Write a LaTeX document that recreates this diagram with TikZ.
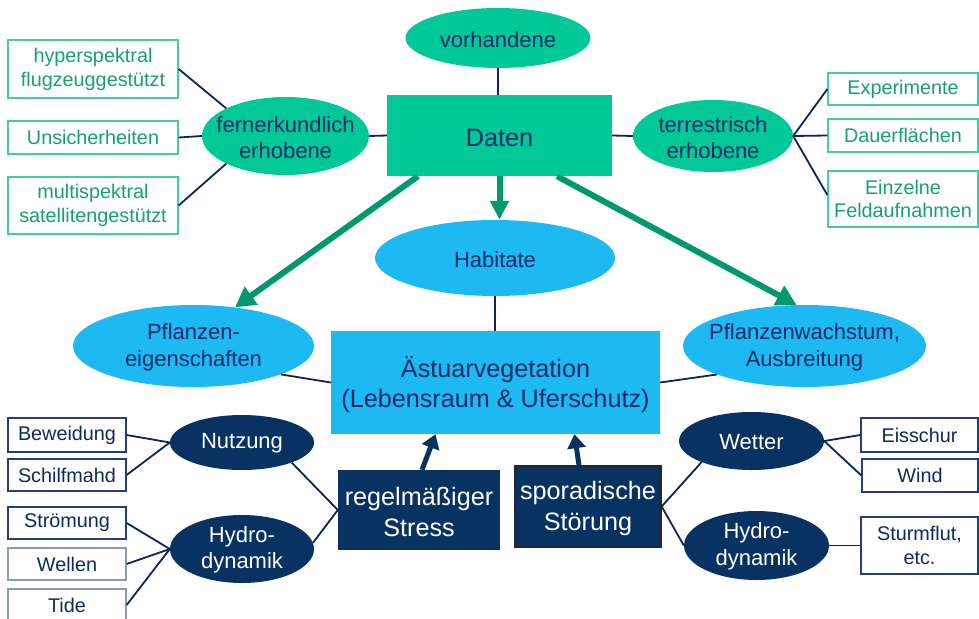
\documentclass[tikz,border=0pt]{standalone}
\usepackage{fontspec}
\setmainfont{Liberation Sans}
\usetikzlibrary{shapes.geometric,arrows.meta,calc}
\definecolor{dgreen}{HTML}{00C896}
\definecolor{agreen}{HTML}{00996E}
\definecolor{tnavy}{HTML}{102A6B}
\definecolor{lnavy}{HTML}{0A2361}
\definecolor{lblue}{HTML}{1CB9F3}
\definecolor{dnavy}{HTML}{073261}
\definecolor{gtext}{HTML}{14A077}
\definecolor{gborder}{HTML}{40CDA5}
\definecolor{btext}{HTML}{0B2A5E}
\definecolor{bborder}{HTML}{223F7C}
\definecolor{bborderl}{HTML}{8A9AB8}
\begin{document}
\begin{tikzpicture}[x=1pt,y=-1pt,
  fA/.style={font=\fontsize{19.8}{23.8}\selectfont},
  fB/.style={font=\fontsize{22}{26.5}\selectfont},
  fC/.style={font=\fontsize{25.2}{30.5}\selectfont},
  ell/.style={ellipse, inner sep=0pt, draw=none},
  gell/.style={ell, fill=dgreen},
  bell/.style={ell, fill=lblue},
  nell/.style={ell, fill=dnavy},
  ltn/.style={align=center, text=tnavy, fB, inner sep=0pt, yshift=-1.5pt},
  lwh/.style={align=center, text=white, fB, inner sep=0pt, yshift=-1pt},
  lbig/.style={align=center, fC, inner sep=0pt, yshift=-2pt},
  gbox/.style={rectangle, draw=gborder, line width=1.3pt, text=gtext, align=center, inner sep=0pt, fA},
  bbox/.style={rectangle, draw=bborder, line width=1.3pt, text=btext, align=center, inner sep=0pt, fA},
  conn/.style={draw=lnavy, line width=1.8pt},
  garrow/.style={draw=agreen, line width=6pt, -{Triangle[length=20pt,width=21pt]}},
  narrow/.style={draw=dnavy, line width=5pt, -{Triangle[length=14pt,width=18pt]}}
]
\useasboundingbox (0,0) rectangle (979,618);

% top
\node[gell, minimum width=185pt, minimum height=60pt, label={[ltn]center:{vorhandene}}] (vorh) at (498,38) {};
\node[rectangle, fill=dgreen, minimum width=225pt, minimum height=81pt, inner sep=0pt, label={[lbig, text=tnavy]center:{Daten}}] (daten) at (499.5,135.5) {};
\node[gell, minimum width=167pt, minimum height=78pt, label={[ltn]center:{fernerkundlich\\erhobene}}] (fern) at (285.5,136) {};
\node[gell, minimum width=160pt, minimum height=72pt, label={[ltn]center:{terrestrisch\\erhobene}}] (terr) at (713,136) {};

\node[gbox, minimum width=170pt, minimum height=58pt] (hyp) at (93,69) {hyperspektral\\flugzeuggestützt};
\node[gbox, minimum width=170pt, minimum height=33pt] (unsi) at (93,137.5) {Unsicherheiten};
\node[gbox, minimum width=170pt, minimum height=57pt] (multi) at (93,205.5) {multispektral\\satellitengestützt};

\node[gbox, minimum width=150pt, minimum height=32pt] (exp) at (903,89) {Experimente};
\node[gbox, minimum width=150pt, minimum height=33pt] (dauer) at (903,135.5) {Dauerflächen};
\node[gbox, minimum width=150pt, minimum height=56pt] (einz) at (903,199) {Einzelne\\Feldaufnahmen};

% middle
\node[bell, minimum width=240pt, minimum height=76pt, label={[ltn]center:{Habitate}}] (hab) at (495,258) {};
\node[bell, minimum width=241pt, minimum height=82pt, label={[ltn]center:{Pflanzen-\\eigenschaften}}] (pfl) at (193.5,346) {};
\node[bell, minimum width=243pt, minimum height=82pt, label={[ltn]center:{Pflanzenwachstum,\\Ausbreitung}}] (wach) at (804.5,346) {};
\node[rectangle, fill=lblue, minimum width=329pt, minimum height=103pt, inner sep=0pt, label={[lbig, text=tnavy]center:{Ästuarvegetation\\(Lebensraum \& Uferschutz)}}] (ast) at (495.5,382.5) {};

% bottom
\node[rectangle, fill=dnavy, minimum width=162pt, minimum height=80pt, inner sep=0pt, label={[lbig, text=white]center:{regelmäßiger\\Stress}}] (reg) at (419,510) {};
\node[rectangle, fill=dnavy, draw=black!85, line width=1.3pt, minimum width=146pt, minimum height=81pt, inner sep=0pt, label={[lbig, text=white]center:{sporadische\\Störung}}] (spor) at (588,506.5) {};

\node[nell, minimum width=144pt, minimum height=55pt, label={[lwh]center:{Nutzung}}] (nutz) at (242,442.5) {};
\node[nell, minimum width=144pt, minimum height=68pt, label={[lwh]center:{Hydro-\\dynamik}}] (hydL) at (242,549) {};
\node[nell, minimum width=145pt, minimum height=58pt, label={[lwh]center:{Wetter}}] (wet) at (751.5,441) {};
\node[nell, minimum width=145pt, minimum height=69pt, label={[lwh]center:{Hydro-\\dynamik}}] (hydR) at (756.5,545.5) {};

\node[bbox, minimum width=118pt, minimum height=34pt] (bew) at (67,435) {Beweidung};
\node[bbox, minimum width=118pt, minimum height=32pt] (schilf) at (67,475) {Schilfmahd};
\node[bbox, minimum width=118pt, minimum height=32pt] (stroem) at (67,523) {Strömung};
\node[bbox, draw=bborderl, minimum width=118pt, minimum height=32pt] (well) at (67,564) {Wellen};
\node[bbox, draw=bborderl, minimum width=118pt, minimum height=32pt] (tide) at (67,605) {Tide};

\node[bbox, minimum width=117pt, minimum height=34pt] (eis) at (919.5,435) {Eisschur};
\node[bbox, minimum width=116pt, minimum height=33pt] (wind) at (920,475.5) {Wind};
\node[bbox, minimum width=117pt, minimum height=57pt] (sturm) at (919.5,545.5) {Sturmflut,\\etc.};

% connectors
\draw[conn] (vorh.south) -- (daten.north -| vorh.south);
\draw[conn] (fern.east) -- (daten.west);
\draw[conn] (daten.east) -- (terr.west);
\draw[conn] (hyp.east) -- (fern.155);
\draw[conn] (unsi.east) -- (fern.west);
\draw[conn] (multi.east) -- (fern.205);
\draw[conn] (terr.east) -- (exp.west);
\draw[conn] (terr.east) -- (dauer.west);
\draw[conn] (terr.east) -- ($(einz.west)+(0,-4)$);
\draw[conn] (hab.south) -- (ast.north -| hab.south);
\draw[conn] (pfl.-18) -- (ast.west);
\draw[conn] (ast.east) -- (wach.198);
\draw[conn] (bew.east) -- (nutz.west);
\draw[conn] (schilf.east) -- (nutz.west);
\draw[conn] (stroem.east) -- (hydL.west);
\draw[conn] (well.east) -- (hydL.west);
\draw[conn] (tide.east) -- (hydL.west);
\draw[conn] (nutz.-22) -- (reg.west);
\draw[conn] (hydL.5) -- (reg.west);
\draw[conn] (spor.east) -- (wet.203);
\draw[conn] (spor.east) -- (hydR.west);
\draw[conn] (wet.east) -- (eis.west);
\draw[conn] (wet.east) -- (wind.west);
\draw[conn] (hydR.east) -- (sturm.west);

% arrows
\draw[garrow] ($(daten.south)+(-81.5,0)$) -- (pfl.43);
\draw[garrow, -{Triangle[length=19pt,width=18pt]}] (daten.south) -- (daten.south |- hab.north);
\draw[garrow] ($(daten.south)+(57.5,0)$) -- (wach.101);
\draw[narrow] ($(reg.north)+(3,0)$) -- ($(ast.south)+(-60,0)$);
\draw[narrow] ($(spor.north)+(-9,0)$) -- ($(ast.south)+(79,0)$);
\end{tikzpicture}
\end{document}
